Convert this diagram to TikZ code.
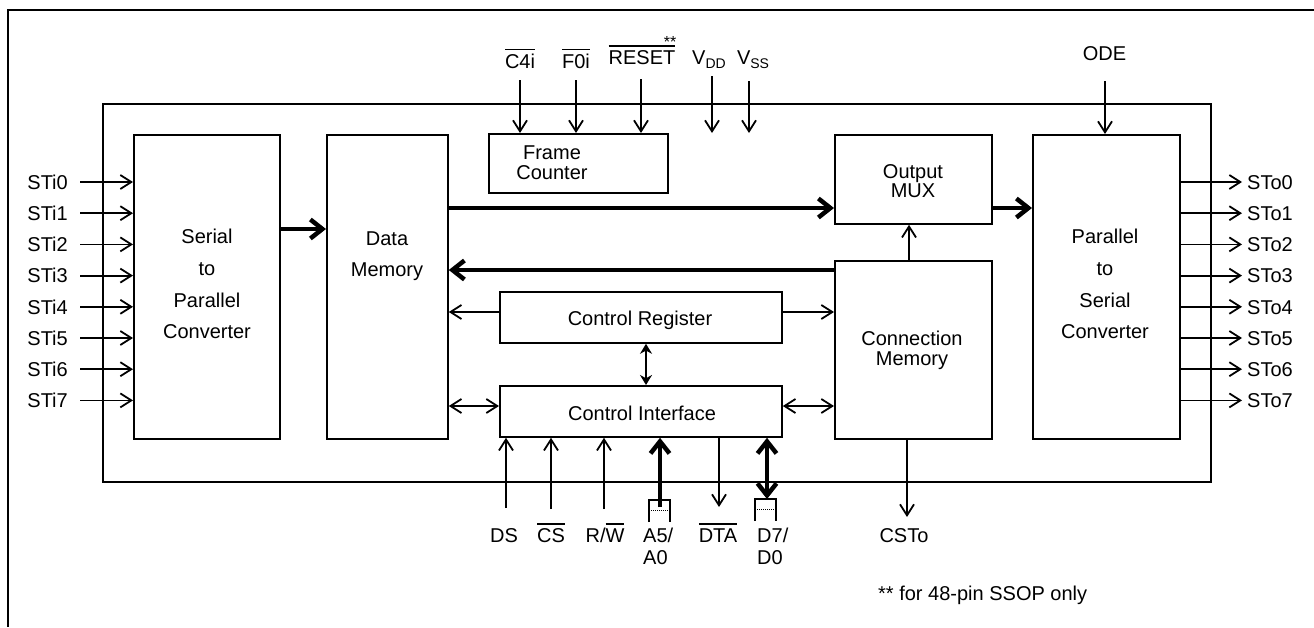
\documentclass[tikz,border=0pt]{standalone}
\usepackage{fontspec}
\setmainfont{Liberation Sans}
\usetikzlibrary{arrows.meta}
\newcommand\ovl[1]{\leavevmode\vbox{\hrule height 1.5pt\kern 3.5pt\hbox{#1}}}
\newcommand\subs[1]{\raisebox{-4pt}{\fontsize{14}{14}\selectfont #1}}
\begin{document}
\begin{tikzpicture}[x=1pt,y=-1pt,
  blk/.style={draw, line width=1.8pt, inner sep=0pt, anchor=north west},
  txt/.style={font=\fontsize{20}{24}\selectfont, inner sep=0pt},
  mtxt/.style={inner sep=0pt, align=center},
  ln/.style={line width=1.8pt},
  arw/.style={line width=1.8pt, -{Straight Barb[length=11pt,width=14pt]}},
  darw/.style={line width=1.8pt, {Straight Barb[length=11pt,width=14pt]}-{Straight Barb[length=11pt,width=14pt]}},
  barw/.style={line width=4.5pt, -{Straight Barb[length=12pt,width=19pt]}},
  dbarw/.style={line width=4.5pt, {Straight Barb[length=12pt,width=19pt]}-{Straight Barb[length=12pt,width=19pt]}},
  marw/.style={line width=2.5pt, {Stealth[length=10pt,width=12pt]}-{Stealth[length=10pt,width=12pt]}}
]
\useasboundingbox (0,0) rectangle (1314,627);
% outer frame (top and left edges)
\coordinate (ofr) at (1314,10);
\coordinate (ofc) at (8,10);
\coordinate (ofb) at (8,627);
\draw[line width=1.8pt] (ofr) -- (ofc) -- (ofb);

% blocks
\node[blk, minimum width=1108pt, minimum height=378pt] (chip) at (102,103) {};
\node[blk, minimum width=146pt, minimum height=304pt] (s2p) at (133,134) {};
\node[blk, minimum width=121pt, minimum height=304pt] (dm) at (326,134) {};
\node[blk, minimum width=179pt, minimum height=59pt] (fc) at (488,133) {};
\node[blk, minimum width=157pt, minimum height=89pt] (mux) at (834,134) {};
\node[blk, minimum width=157pt, minimum height=178pt] (cm) at (834,260) {};
\node[blk, minimum width=147pt, minimum height=304pt] (p2s) at (1032,134) {};
\node[blk, minimum width=282pt, minimum height=51pt] (cr) at (499,291) {};
\node[blk, minimum width=282pt, minimum height=51pt] (ci) at (499,385) {};

% block texts
\node[mtxt, font=\fontsize{20}{31.7}\selectfont] (s2pt) at (207,284) {Serial\\to\\Parallel\\Converter};
\node[mtxt, font=\fontsize{20}{31}\selectfont] (dmt) at (387,256) {Data\\Memory};
\node[mtxt, font=\fontsize{20}{20}\selectfont] (fct) at (552,163) {Frame\\Counter};
\node[mtxt, font=\fontsize{20}{19}\selectfont] (muxt) at (913,181) {Output\\MUX};
\node[mtxt, font=\fontsize{20}{20}\selectfont] (cmt) at (912,350) {Connection\\Memory};
\node[mtxt, font=\fontsize{20}{31.7}\selectfont] (p2st) at (1105,284) {Parallel\\to\\Serial\\Converter};
\node[txt, anchor=base] (crt) at (640,325) {Control Register};
\node[txt, anchor=base] (cit) at (642,420.5) {Control Interface};

% serial inputs and outputs
\foreach \i in {0,...,7} {
  \pgfmathsetmacro\yy{182+31.2*\i}
  \coordinate (si\i) at (80,\yy);
  \coordinate (so\i) at (1242,\yy);
  \draw[arw] (si\i) -- (si\i -| s2p.west);
  \draw[arw] (so\i -| p2s.east) -- (so\i);
  \node[txt, anchor=base east] (sil\i) at (68,\yy+7.2) {STi\i};
  \node[txt, anchor=base west] (sol\i) at (1247,\yy+7.2) {STo\i};
}

% internal buses
\coordinate (y1) at (0,229);
\coordinate (y2) at (0,208);
\coordinate (y3) at (0,270);
\coordinate (y4) at (0,312);
\coordinate (y5) at (0,406);
\coordinate (x1) at (909,0);
\coordinate (x2) at (646,0);
\draw[barw] (s2p.east |- y1) -- (dm.west |- y1);
\draw[barw] (dm.east |- y2) -- (mux.west |- y2);
\draw[barw] (mux.east |- y2) -- (p2s.west |- y2);
\draw[barw] (cm.west |- y3) -- (dm.east |- y3);
\draw[arw] (cm.north -| x1) -- (mux.south -| x1);
\draw[arw] (cr.west |- y4) -- (dm.east |- y4);
\draw[arw] (cr.east |- y4) -- (cm.west |- y4);
\draw[darw] (dm.east |- y5) -- (ci.west |- y5);
\draw[darw] (ci.east |- y5) -- (cm.west |- y5);
\draw[marw] (cr.south -| x2) -- (ci.north -| x2);

% top inputs
\coordinate (c4) at (520,80);
\coordinate (f0) at (576,80);
\coordinate (rs) at (641,79);
\coordinate (vdd) at (712,76);
\coordinate (vdde) at (712,133);
\coordinate (vss) at (749,81);
\coordinate (vsse) at (749,133);
\coordinate (ode) at (1105,81);
\draw[arw] (c4) -- (c4 |- fc.north);
\draw[arw] (f0) -- (f0 |- fc.north);
\draw[arw] (rs) -- (rs |- fc.north);
\draw[arw] (vdd) -- (vdde);
\draw[arw] (vss) -- (vsse);
\draw[arw] (ode) -- (ode |- p2s.north);
\node[txt, anchor=base] (c4l) at (520,68) {\ovl{C4i}};
\node[txt, anchor=base] (f0l) at (576,68) {\ovl{F0i}};
\node[txt, anchor=base] (rsl) at (642,64) {\ovl{RESET}};
\node[inner sep=0pt, anchor=base, font=\fontsize{16}{18}\selectfont] (rss) at (670,47) {**};
\node[txt, anchor=base] (vddl) at (709,64) {V\subs{DD}};
\node[txt, anchor=base] (vssl) at (753,64) {V\subs{SS}};
\node[txt, anchor=base] (odel) at (1104.5,60) {ODE};

% bottom signals
\coordinate (ds) at (506,508);
\coordinate (cs) at (551,509);
\coordinate (rw) at (604,509);
\coordinate (a5) at (660,507);
\coordinate (dta) at (719,507);
\coordinate (d7) at (767,499);
\coordinate (csto) at (907,517);
\draw[arw] (ds) -- (ds |- ci.south);
\draw[arw] (cs) -- (cs |- ci.south);
\draw[arw] (rw) -- (rw |- ci.south);
\draw[barw] (a5) -- (a5 |- ci.south);
\draw[arw] (dta |- ci.south) -- (dta);
\draw[dbarw] (d7 |- ci.south) -- (d7);
\draw[arw] (cm.south -| csto) -- (csto);

% bus brackets
\coordinate (ab1) at (649,522);
\coordinate (ab2) at (649,500);
\coordinate (ab3) at (670,500);
\coordinate (ab4) at (670,522);
\draw[ln] (ab1) -- (ab2) -- (ab3) -- (ab4);
\coordinate (ad1) at (649,510);
\coordinate (ad2) at (670,510);
\draw[line width=1pt, densely dotted] (ad1) -- (ad2);
\coordinate (db1) at (755,521);
\coordinate (db2) at (755,499);
\coordinate (db3) at (776,499);
\coordinate (db4) at (776,521);
\draw[ln] (db1) -- (db2) -- (db3) -- (db4);
\coordinate (dd1) at (755,509);
\coordinate (dd2) at (776,509);
\draw[line width=1pt, densely dotted] (dd1) -- (dd2);

% bottom labels
\node[txt, anchor=base] (dsl) at (504,542) {DS};
\node[txt, anchor=base] (csl) at (551,542) {\ovl{CS}};
\node[txt, anchor=base] (rwl) at (605,542) {R/\ovl{W}};
\node[txt, anchor=base west] (a5l) at (643,542) {A5/};
\node[txt, anchor=base west] (a0l) at (643,564) {A0};
\node[txt, anchor=base] (dtal) at (718,542) {\ovl{DTA}};
\node[txt, anchor=base west] (d7l) at (757,542) {D7/};
\node[txt, anchor=base west] (d0l) at (757,564) {D0};
\node[txt, anchor=base] (cstol) at (904,542) {CSTo};
\node[txt, anchor=base west] (note) at (878,600) {** for 48-pin SSOP only};
\end{tikzpicture}
\end{document}
